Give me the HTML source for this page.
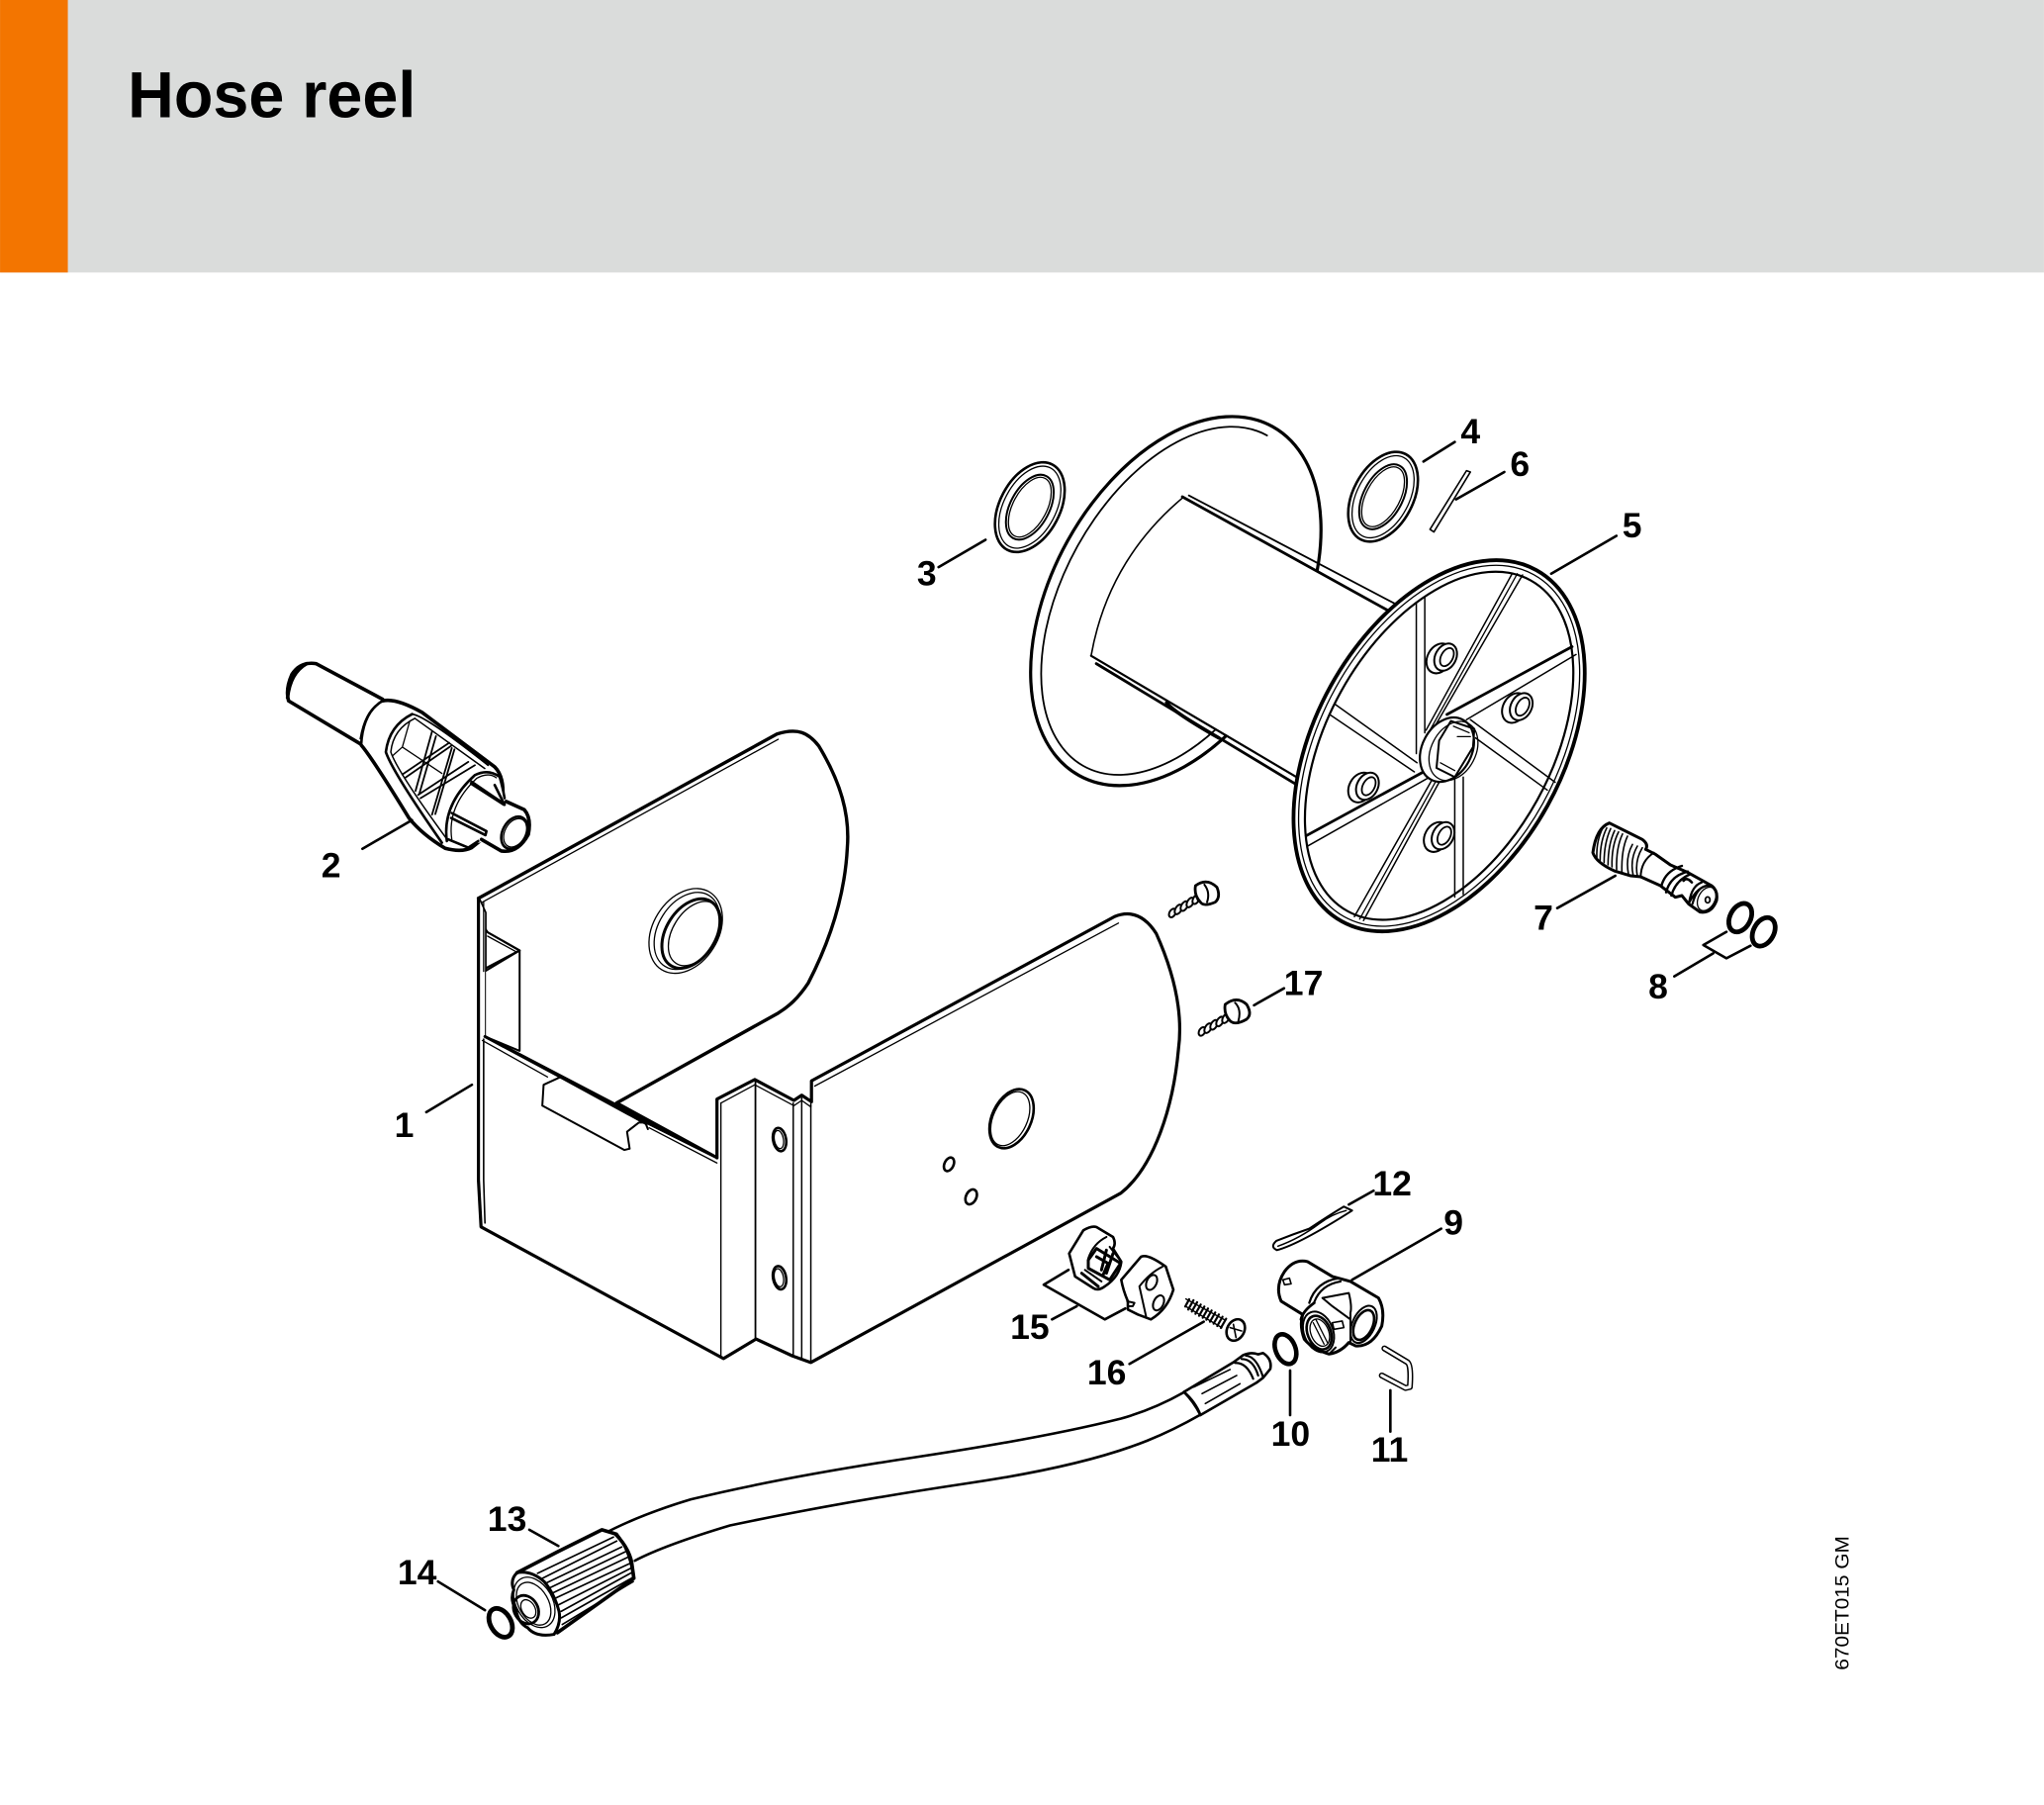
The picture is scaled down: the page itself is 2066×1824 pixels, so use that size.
<!DOCTYPE html>
<html><head><meta charset="utf-8"><title>Hose reel</title>
<style>
html,body{margin:0;padding:0;background:#fff;width:2066px;height:1824px;overflow:hidden}
svg{display:block}
svg *{vector-effect:non-scaling-stroke}
.d path,.d line,.d ellipse,.d polyline{fill:none;stroke:#000;stroke-width:2.6;stroke-linejoin:round;stroke-linecap:round}
.d .f{fill:#fff}
.d .t{stroke-width:1.3}
.d .h{stroke-width:3.6}
.d .x{stroke-width:4.5}
.n text{font:bold 27px "Liberation Sans",sans-serif;text-anchor:middle;fill:#000}
</style></head><body>
<svg width="2066" height="1824" viewBox="0 0 1568 1384.4" xmlns="http://www.w3.org/2000/svg">
<rect width="1568" height="1384.4" fill="#fff"/>
<rect width="1568" height="209" fill="#dadcdb"/>
<rect width="52" height="209" fill="#f37500"/>
<text x="98" y="90" font-family="Liberation Sans,sans-serif" font-weight="bold" font-size="50" textLength="221" lengthAdjust="spacingAndGlyphs" fill="#000">Hose reel</text>

<g class="d">
<!-- Housing back panel -->
<path class="f" d="M367,689 L596,563 C612,558 620,562 628,572 C645,600 652,625 650,650 C648,690 635,725 620,754 C612,766 605,772 597,777 L473,846 L550,888 L372,795 L372,700 Z" style="stroke-width:3.4"/>
<path class="t" d="M370,692 L597,567"/>
<ellipse class="f t" cx="526" cy="714" rx="25" ry="35" transform="rotate(32 526 714)"/>
<ellipse class="t" cx="527" cy="714" rx="22" ry="32" transform="rotate(32 527 714)"/>
<ellipse class="f" cx="530" cy="716" rx="19" ry="29" transform="rotate(32 530 716)" style="stroke-width:3"/>
<ellipse class="t" cx="533" cy="716" rx="17" ry="27" transform="rotate(32 533 716)"/>
<!-- Inner left structure -->
<path class="f" d="M372,795 L372,745 L398.6,729 L398.6,806 Z" style="stroke-width:2"/>
<path d="M370,744 L398.6,729 L374,715 L369,708" style="stroke-width:2.2"/>
<path class="t" d="M374,718 L396,730 L372,743"/>
<!-- Housing front body -->
<path class="f" d="M367,689 L367,905 L369,941 L555,1042 L580,1027 L608,1040 L622,1045 L860,915 C885,895 900,850 904,805 C908,775 900,745 887,716 C880,705 870,697 855,703 L622.5,829 L622.5,845 L615,840 L609,844 L579,828 L550,843 L550,888 L498,862 L430,826 L372,795 L372,700 Z" style="stroke:none"/>
<path d="M367,689 L367,905 L369,941 L555,1042 L580,1027 L608,1040 L622,1045 L860,915 C885,895 900,850 904,805 C908,775 900,745 887,716 C880,705 870,697 855,703 L622.5,829 L622.5,845 L615,840 L609,844 L579,828 L550,843 L550,888" style="stroke-width:3.2"/>
<path class="t" d="M371,692 L371,745"/>
<path d="M371,797 L371,905 L372,938" style="stroke-width:1.6"/>
<path class="f" d="M430,826 L417,832 L416,848 L479,882 L483,881 L481,868 L490,861 L495,861 L497,866" style="stroke-width:2"/>
<path d="M430,826 L496,862" style="stroke-width:3"/>
<path d="M498,862 L550,888" style="stroke-width:2.8"/>
<path class="t" d="M498,865 L550,892"/>
<path d="M372,795 L430,826" style="stroke-width:3"/>
<path class="t" d="M370,798 L420,826"/>
<path class="t" d="M553,846 L579,832 L609,848 L615,844 L622,849 L622,833"/>
<path class="t" d="M625,833 L858,708"/>
<path style="stroke-width:1.4" d="M553,846 L553,1040"/>
<path style="stroke-width:1.8" d="M579.5,828 L579.5,1027"/>
<path style="stroke-width:1.5" d="M608.5,846 L608.5,1040"/>
<path style="stroke-width:1.5" d="M615,842 L615,1043"/>
<path style="stroke-width:1.5" d="M622,847 L622,1045"/>
<ellipse cx="598" cy="874" rx="5" ry="9" transform="rotate(-10 598 874)"/>
<ellipse class="t" cx="597.5" cy="874" rx="3.5" ry="7" transform="rotate(-10 597.5 874)"/>
<ellipse cx="598" cy="980" rx="5" ry="9" transform="rotate(-10 598 980)"/>
<ellipse class="t" cx="597.5" cy="980" rx="3.5" ry="7" transform="rotate(-10 597.5 980)"/>
<ellipse cx="776" cy="858" rx="15" ry="24" transform="rotate(25 776 858)"/>
<ellipse class="t" cx="775" cy="858" rx="13" ry="22" transform="rotate(25 775 858)"/>
<ellipse cx="728" cy="893" rx="3.5" ry="5.5" transform="rotate(25 728 893)"/>
<ellipse cx="745" cy="918" rx="4" ry="6" transform="rotate(25 745 918)"/>

<!-- Reel left flange -->
<ellipse class="f" cx="902" cy="461" rx="153" ry="95" transform="rotate(-61 902 461)" style="stroke-width:3.2"/>
<path d="M972,334 A145 86 -61 1 0 932,560" style="stroke-width:1.8"/>
<!-- dark underside -->
<path class="h" d="M895,539 Q900,546 935,566"/>
<!-- cylinder -->
<path class="f" d="M907,382 Q850,430 837,503 L997,596 L1066,467 Z" style="stroke:none"/>
<path d="M907,382 Q850,430 837,503" style="stroke-width:1.6"/>
<path d="M907,381 L1068,470" style="stroke-width:2.8"/>
<path d="M912,380 L1072,464" style="stroke-width:1.8"/>
<path d="M837,503 L998,598" style="stroke-width:2.2"/>
<path d="M841,509 L995,602" style="stroke-width:2.8"/>

<!-- Reel right flange -->
<ellipse class="f" cx="1104" cy="572" rx="154" ry="95" transform="rotate(-61 1104 572)" style="stroke-width:3.8"/>
<ellipse class="t" cx="1104" cy="572" rx="150" ry="91" transform="rotate(-61 1104 572)"/>
<ellipse cx="1104" cy="572" rx="145" ry="86" transform="rotate(-61 1104 572)" style="stroke-width:2.2"/>
<!-- spokes -->
<path d="M1160,440 L1094,560 M1168,441 L1099,560" style="stroke-width:1.5"/>
<path class="t" d="M1164,440 L1097,560"/>
<path style="stroke-width:1.5" d="M1086.5,462 L1086.5,578 M1093,458 L1093,562"/>
<path d="M1206,496 L1110,548" style="stroke-width:2.8"/>
<path style="stroke-width:1.5" d="M1209,502 L1125,552"/>
<path style="stroke-width:1.5" d="M1193,600 L1128,552 M1187,606 L1132,566"/>
<path style="stroke-width:1.5" d="M1116,596 L1116,688 M1122.5,596 L1122.5,686"/>
<path style="stroke-width:1.5" d="M1039,703 L1098,599 M1046,706 L1104,600"/>
<path class="t" d="M1043,705 L1101,600"/>
<path d="M1002,641 L1092,592" style="stroke-width:2.8"/>
<path style="stroke-width:1.5" d="M1003,649 L1095,597"/>
<path style="stroke-width:1.5" d="M1024,540 L1087,585 M1020,548 L1085,592"/>
<!-- bosses -->
<ellipse class="f" cx="1104" cy="505" rx="9" ry="12" transform="rotate(28 1104 505)" style="stroke-width:2"/>
<ellipse class="f" cx="1109" cy="504" rx="8" ry="11" transform="rotate(28 1109 504)" style="stroke-width:2"/>
<ellipse cx="1110" cy="504" rx="4.5" ry="7.5" transform="rotate(28 1110 504)" style="stroke-width:1.8"/>
<ellipse class="f" cx="1162" cy="543" rx="9" ry="12" transform="rotate(28 1162 543)" style="stroke-width:2"/>
<ellipse class="f" cx="1167" cy="542" rx="8" ry="11" transform="rotate(28 1167 542)" style="stroke-width:2"/>
<ellipse cx="1168" cy="542" rx="4.5" ry="7.5" transform="rotate(28 1168 542)" style="stroke-width:1.8"/>
<ellipse class="f" cx="1044" cy="604" rx="9" ry="12" transform="rotate(28 1044 604)" style="stroke-width:2"/>
<ellipse class="f" cx="1049" cy="603" rx="8" ry="11" transform="rotate(28 1049 603)" style="stroke-width:2"/>
<ellipse cx="1050" cy="603" rx="4.5" ry="7.5" transform="rotate(28 1050 603)" style="stroke-width:1.8"/>
<ellipse class="f" cx="1102" cy="642" rx="9" ry="12" transform="rotate(28 1102 642)" style="stroke-width:2"/>
<ellipse class="f" cx="1107" cy="641" rx="8" ry="11" transform="rotate(28 1107 641)" style="stroke-width:2"/>
<ellipse cx="1108" cy="641" rx="4.5" ry="7.5" transform="rotate(28 1108 641)" style="stroke-width:1.8"/>
<!-- hub -->
<ellipse class="f" cx="1110" cy="575" rx="19" ry="26" transform="rotate(28 1110 575)" style="stroke-width:2.2"/>
<ellipse class="t" cx="1115" cy="576" rx="17" ry="24" transform="rotate(28 1115 576)"/>
<path d="M1113,553 L1131,559 L1130,573 L1116,596 L1102,589 L1104,568 Z" style="stroke-width:2"/>
<path class="t" d="M1115,557 L1127,562 M1105,585 L1116,591 M1128,565 L1118,565"/>

<!-- rings 3, 4 -->
<ellipse cx="790" cy="389" rx="23" ry="37" transform="rotate(28 790 389)"/>
<ellipse class="t" cx="790" cy="389" rx="20" ry="34" transform="rotate(28 790 389)"/>
<ellipse cx="790" cy="389" rx="15" ry="27" transform="rotate(28 790 389)" style="stroke-width:2"/>
<ellipse class="t" cx="790" cy="389" rx="13" ry="25" transform="rotate(28 790 389)"/>
<ellipse cx="1061" cy="381" rx="23" ry="37" transform="rotate(28 1061 381)"/>
<ellipse class="t" cx="1061" cy="381" rx="20" ry="34" transform="rotate(28 1061 381)"/>
<ellipse cx="1061" cy="381" rx="15" ry="27" transform="rotate(28 1061 381)" style="stroke-width:2"/>
<ellipse class="t" cx="1061" cy="381" rx="13" ry="25" transform="rotate(28 1061 381)"/>
<!-- pin 6 -->
<path d="M1125,361 L1128,362 L1100,408 L1097,406 Z" style="stroke-width:1.6"/>

<!-- Part 2 -->
<g transform="translate(197.3 485.7) scale(.253)">
<path class="h" d="M380,200 L178,92 Q130,85 105,125 Q85,170 95,205 L312,335"/>
<path class="h" d="M150,92 Q100,120 92,195"/>
<path d="M380,205 Q320,240 315,340"/>
<path class="t" d="M368,212 Q325,240 312,320"/>
<path class="h" d="M380,205 Q420,195 500,240 L720,405 Q745,430 745,480"/>
<path class="h" d="M316,340 Q350,380 460,560 Q500,610 570,652 Q620,665 650,650 L675,630"/>
<path d="M470,245 Q400,280 390,360 Q410,420 560,635"/>
<path style="stroke-width:1.5" d="M478,258 Q412,290 405,360 Q425,420 578,628"/>
<path style="stroke-width:1.8" d="M470,245 Q510,250 700,400"/>
<path style="stroke-width:1.5" d="M478,258 L690,410"/>
<path class="t" d="M462,268 L440,345 L560,425 M440,345 L412,370"/>
<path style="stroke-width:1.8" d="M530,298 L480,478 M542,312 L492,485 M590,348 L530,550 M598,352 L540,548"/>
<path style="stroke-width:1.8" d="M440,428 L582,332 M450,437 L590,340 M488,490 L640,390 M495,500 L660,400"/>
<path class="f" d="M575,630 Q560,520 660,430 Q700,410 735,435 Q745,470 745,490 L745,620 L600,650Z" style="stroke:none"/>
<path d="M575,630 Q560,520 660,430 Q700,410 735,435 Q745,470 750,500"/>
<path class="t" d="M590,625 Q575,525 665,440 Q700,420 725,438"/>
<path class="h" d="M755,510 L810,535 Q832,560 822,610 Q790,668 740,660 L680,625"/>
<path d="M720,460 L750,520 M650,450 L745,515"/>
<ellipse cx="780" cy="605" rx="36" ry="52" transform="rotate(28 780 605)" />
<ellipse class="t" cx="782" cy="605" rx="31" ry="46" transform="rotate(28 782 605)"/>
<path class="h" d="M650,455 L748,518"/>
<path d="M590,545 L695,600 L692,612 L588,560"/>
<path d="M580,625 L640,650 L670,630"/>
</g>

<!-- Part 7 -->
<g transform="translate(1184 607.2) scale(.253)">
<path class="f" d="M200,95 L300,145 Q320,160 310,175 L340,190 L385,222 L438,245 L510,285 Q530,300 525,330 Q510,370 475,365 L440,340 L420,315 L400,320 L355,285 L295,258 L265,255 L215,240 Q160,215 150,185 Q160,110 200,95Z" style="stroke-width:3"/>
<path style="stroke-width:1.6" d="M180,110 Q160,150 162,200 M192,110 Q172,150 172,208 M204,112 Q184,155 184,215 M216,118 Q196,160 196,222 M228,122 Q206,165 208,228 M240,128 Q220,170 222,236 M255,135 Q236,175 238,246"/>
<path style="stroke-width:1.6" d="M270,160 Q248,200 258,250 M285,165 Q262,205 272,252 M300,170 Q276,210 285,256"/>
<path style="stroke-width:2" d="M335,185 Q295,210 295,260"/>
<path style="stroke-width:2.4" d="M420,225 Q370,240 358,285 M438,242 Q385,255 372,305 M445,250 Q400,270 388,315"/>
<path style="stroke-width:2.2" d="M510,285 Q470,280 440,340 M480,275 Q450,285 442,335 M495,285 Q465,290 452,340"/>
<ellipse class="t" cx="495" cy="325" rx="25" ry="38" transform="rotate(28 495 325)"/>
<ellipse cx="498" cy="328" rx="7" ry="9" style="stroke-width:1.8"/>
<path d="M425,270 Q435,258 450,275"/>
<ellipse cx="597" cy="382" rx="31" ry="46" transform="rotate(28 597 382)" style="stroke-width:4.8"/>
<ellipse cx="668" cy="425" rx="31" ry="46" transform="rotate(28 668 425)" style="stroke-width:4.8"/>
<path d="M555,425 L485,465 L555,505 L628,467"/>
<path d="M515,490 L397,560"/>
<path d="M218,255 L42,353"/>
</g>

<!-- Screws -->
<g transform="translate(895.6 660.3) scale(.253)">
<ellipse class="f" cx="15" cy="158" rx="9" ry="14" transform="rotate(30 15 158)" style="stroke-width:2"/>
<ellipse class="f" cx="33" cy="147" rx="9" ry="16" transform="rotate(30 33 147)" style="stroke-width:2"/>
<ellipse class="f" cx="51" cy="137" rx="9" ry="16" transform="rotate(30 51 137)" style="stroke-width:2"/>
<ellipse class="f" cx="69" cy="126" rx="9" ry="16" transform="rotate(30 69 126)" style="stroke-width:2"/>
<ellipse class="f" cx="87" cy="116" rx="9" ry="16" transform="rotate(30 87 116)" style="stroke-width:2"/>
<ellipse class="f" cx="102" cy="107" rx="9" ry="16" transform="rotate(30 102 107)" style="stroke-width:2"/>
<path class="f" d="M85,75 Q120,50 150,80 Q162,110 145,125 Q110,140 100,125 Q80,105 85,75 Z" style="stroke-width:2.8"/>
<path d="M112,72 Q130,95 120,125" style="stroke-width:2"/>
<ellipse class="f" cx="105" cy="517" rx="9" ry="14" transform="rotate(30 105 517)" style="stroke-width:2"/>
<ellipse class="f" cx="123" cy="507" rx="9" ry="16" transform="rotate(30 123 507)" style="stroke-width:2"/>
<ellipse class="f" cx="141" cy="497" rx="9" ry="16" transform="rotate(30 141 497)" style="stroke-width:2"/>
<ellipse class="f" cx="159" cy="487" rx="9" ry="16" transform="rotate(30 159 487)" style="stroke-width:2"/>
<ellipse class="f" cx="177" cy="477" rx="9" ry="16" transform="rotate(30 177 477)" style="stroke-width:2"/>
<ellipse class="f" cx="195" cy="467" rx="9" ry="16" transform="rotate(30 195 467)" style="stroke-width:2"/>
<path class="f" d="M175,435 Q210,408 240,435 Q258,465 240,480 Q205,500 190,485 Q170,465 175,435 Z" style="stroke-width:2.8"/>
<path d="M205,430 Q225,450 215,485" style="stroke-width:2"/>
</g>

<!-- Zoom-3 parts: 9,10,11,12,15,16, ferrule -->
<g transform="translate(796.9 880.4) scale(.253)">
<!-- 15 clamp A -->
<path class="f" d="M92,320 L135,250 Q160,235 175,240 L225,270 Q235,290 225,305 L250,345 Q245,390 200,420 Q180,435 165,425 L110,390 Z"/>
<path d="M150,335 Q165,290 205,270 M140,370 L190,405 M215,300 L250,345" style="stroke-width:2"/>
<path d="M150,340 L175,305 L248,350 L215,400 L150,365 Z" style="stroke-width:3"/>
<path d="M175,330 L210,350 L195,385 M205,310 L190,370 M225,320 L205,380" style="stroke-width:3"/>
<path d="M130,380 L180,420" style="stroke-width:3"/>
<!-- 15 clamp B -->
<path class="f" d="M250,400 L310,330 Q330,320 385,360 L408,430 Q390,490 340,520 L300,505 L270,490 L270,465 Q255,430 250,400Z"/>
<path d="M305,420 Q335,380 375,360 M305,420 L325,510" style="stroke-width:2"/>
<ellipse cx="342" cy="408" rx="15" ry="24" transform="rotate(25 342 408)" style="stroke-width:2"/>
<ellipse cx="363" cy="470" rx="15" ry="24" transform="rotate(25 363 470)" style="stroke-width:2"/>
<path d="M268,465 L290,470 L285,480 L270,480" style="stroke-width:2"/>
<path d="M90,370 L15,415 L200,520 L262,487"/>
<path d="M40,520 L115,480"/>
<!-- 16 screw -->
<path d="M446,458 L565,522 M448,482 L555,545" style="stroke-width:1.4"/>
<path style="stroke-width:2.2" d="M456,459L444,481 M469,462L453,490 M480,468L464,496 M491,475L475,503 M502,481L486,509 M513,487L497,515 M524,493L508,521 M535,499L519,527 M546,505L530,533 M557,512L541,540 M568,518L552,546"/>
<ellipse class="f" cx="597" cy="552" rx="26" ry="34" transform="rotate(28 597 552)"/>
<path d="M590,535 L598,575 M580,545 L615,555" style="stroke-width:1.6"/>
<path d="M275,655 L500,527"/>
<!-- 12 pin -->
<path d="M925,178 Q880,205 820,245 Q770,262 720,282 Q700,300 722,310 Q790,292 950,190 Z" style="stroke-width:2"/>
<path style="stroke-width:1.5" d="M725,298 Q790,275 850,230 Q890,200 932,190"/>
<path d="M940,172 L1015,130"/>
<!-- 9 -->
<path class="f" d="M745,375 Q775,335 815,345 L890,390 L945,405 L1030,455 Q1050,490 1040,540 Q1010,605 960,600 L940,590 Q915,620 880,625 Q830,610 805,580 Q790,540 800,505 L735,465 Q715,420 745,375Z" style="stroke-width:3"/>
<path d="M820,470 Q840,405 910,395 L945,405 M835,468 Q855,415 915,405" style="stroke-width:2.2"/>
<path d="M860,455 L940,440 Q950,480 945,500 M860,455 L890,480 L945,520" style="stroke-width:2"/>
<path style="stroke-width:2.8" d="M835,470 Q800,495 795,520"/>
<ellipse cx="848" cy="558" rx="44" ry="64" transform="rotate(-22 848 558)" style="stroke-width:2"/>
<ellipse cx="850" cy="560" rx="35" ry="53" transform="rotate(-22 850 560)" style="stroke-width:2.6"/>
<ellipse class="t" cx="852" cy="560" rx="27" ry="43" transform="rotate(-22 852 560)"/>
<path class="t" d="M840,520 L875,590 M832,530 L865,595"/>
<ellipse cx="985" cy="535" rx="34" ry="60" transform="rotate(25 985 535)" style="stroke-width:2"/>
<ellipse cx="985" cy="537" rx="27" ry="48" transform="rotate(25 985 537)" style="stroke-width:2.6"/>
<path d="M945,590 L945,500 M900,605 L880,625" style="stroke-width:2"/>
<path d="M740,400 L760,395 L765,412 L745,415 Z M890,530 L920,525 L925,545 L895,550 Z" style="stroke-width:1.6"/>
<path d="M950,400 L1220,245"/>
<!-- 10 -->
<ellipse cx="748" cy="610" rx="30" ry="47" transform="rotate(-22 748 610)" style="stroke-width:4.6"/>
<path d="M762,675 L762,810"/>
<!-- 11 -->
<path d="M1048,608 L1118,650 Q1130,660 1125,725 L1112,728 L1040,690" style="stroke-width:6"/>
<path d="M1048,608 L1118,650 Q1130,660 1125,725 L1112,728 L1040,690" style="stroke:#fff;stroke-width:3"/>
<path d="M1066,735 L1066,860"/>
<!-- ferrule -->
<path class="f" d="M440,740 L590,650 L620,628 Q645,618 665,626 L680,622 Q708,640 702,670 L680,697 L660,712 L490,810 Q470,770 440,740Z"/>
<path d="M595,652 Q630,650 650,700 M615,640 Q650,640 665,690 M628,630 Q660,632 680,695" style="stroke-width:2.2"/>
<path style="stroke-width:1.6" d="M470,725 L580,672 M495,745 L600,690 M505,775 L610,715"/>
<path d="M440,740 Q475,770 490,810"/>
</g>

<!-- Hose -->
<path d="M462,1177 Q490,1162 530,1150 Q600,1133 700,1118 Q800,1103 860,1088 Q885,1081 908,1068" style="stroke-width:2.6"/>
<path d="M487,1197 Q510,1185 560,1170 Q640,1153 740,1138 Q830,1125 880,1105 Q900,1097 921,1085" style="stroke-width:2.6"/>

<!-- Part 13 -->
<g transform="translate(364.3 1138.4) scale(.253)">
<path class="f" d="M128,268 L385,138 L430,150 Q470,200 482,280 L245,455 Q200,470 160,430 Q115,390 108,310 Z" style="stroke:none"/>
<path class="h" d="M128,268 L250,205 L385,138 L425,150 Q465,190 475,235 L482,285 L250,450"/>
<path style="stroke-width:1.7" d="M190,270 L420,160 M205,285 L430,172 M215,300 L445,190 M225,315 L455,205 M235,330 L462,222 M245,345 L470,240 M255,365 L472,255 M262,385 L475,268 M262,405 L480,282 M265,425 L480,295"/>
<path d="M430,150 Q470,200 480,280"/>
<path d="M128,268 Q105,290 118,320 Q105,350 125,380 Q130,420 160,435 Q185,465 240,455 Q262,420 255,385 Q240,330 210,295 Q170,260 128,268Z" style="stroke-width:3"/>
<ellipse class="t" cx="180" cy="358" rx="55" ry="82" transform="rotate(-30 180 358)"/>
<ellipse class="t" cx="178" cy="362" rx="45" ry="70" transform="rotate(-30 178 362)"/>
<ellipse cx="155" cy="380" rx="36" ry="45" transform="rotate(-30 155 380)" style="stroke-width:2.8"/>
<ellipse class="t" cx="162" cy="378" rx="20" ry="30" transform="rotate(-30 162 378)"/>
<path d="M165,138 L253,187"/>
<ellipse cx="78" cy="420" rx="31" ry="47" transform="rotate(-30 78 420)" style="stroke-width:4.8"/>
</g>

<!-- Leaders -->
<line x1="327" y1="853" x2="362" y2="832"/>
<line x1="278" y1="651" x2="316" y2="629"/>
<line x1="720" y1="435" x2="756" y2="414"/>
<line x1="1092" y1="354" x2="1116" y2="339"/>
<line x1="1190" y1="440" x2="1240" y2="411"/>
<line x1="1117" y1="383" x2="1154" y2="362"/>
<line x1="336" y1="1213" x2="372" y2="1235"/>
<line x1="962" y1="771" x2="985" y2="758"/>
</g>

<g class="n">
<text x="310" y="872">1</text>
<text x="254" y="673">2</text>
<text x="711" y="449">3</text>
<text x="1128" y="340">4</text>
<text x="1252" y="412">5</text>
<text x="1166" y="365">6</text>
<text x="1184" y="713">7</text>
<text x="1272" y="766">8</text>
<text x="1115" y="947">9</text>
<text x="990" y="1109">10</text>
<text x="1066" y="1121">11</text>
<text x="1068" y="917">12</text>
<text x="389" y="1174">13</text>
<text x="320" y="1215">14</text>
<text x="790" y="1027">15</text>
<text x="849" y="1062">16</text>
<text x="1000" y="763">17</text>
</g>
<text transform="translate(1418 1281) rotate(-90)" font-family="Liberation Sans,sans-serif" font-size="14.5" textLength="103" lengthAdjust="spacingAndGlyphs" fill="#000">670ET015 GM</text>
</svg>
</body></html>
